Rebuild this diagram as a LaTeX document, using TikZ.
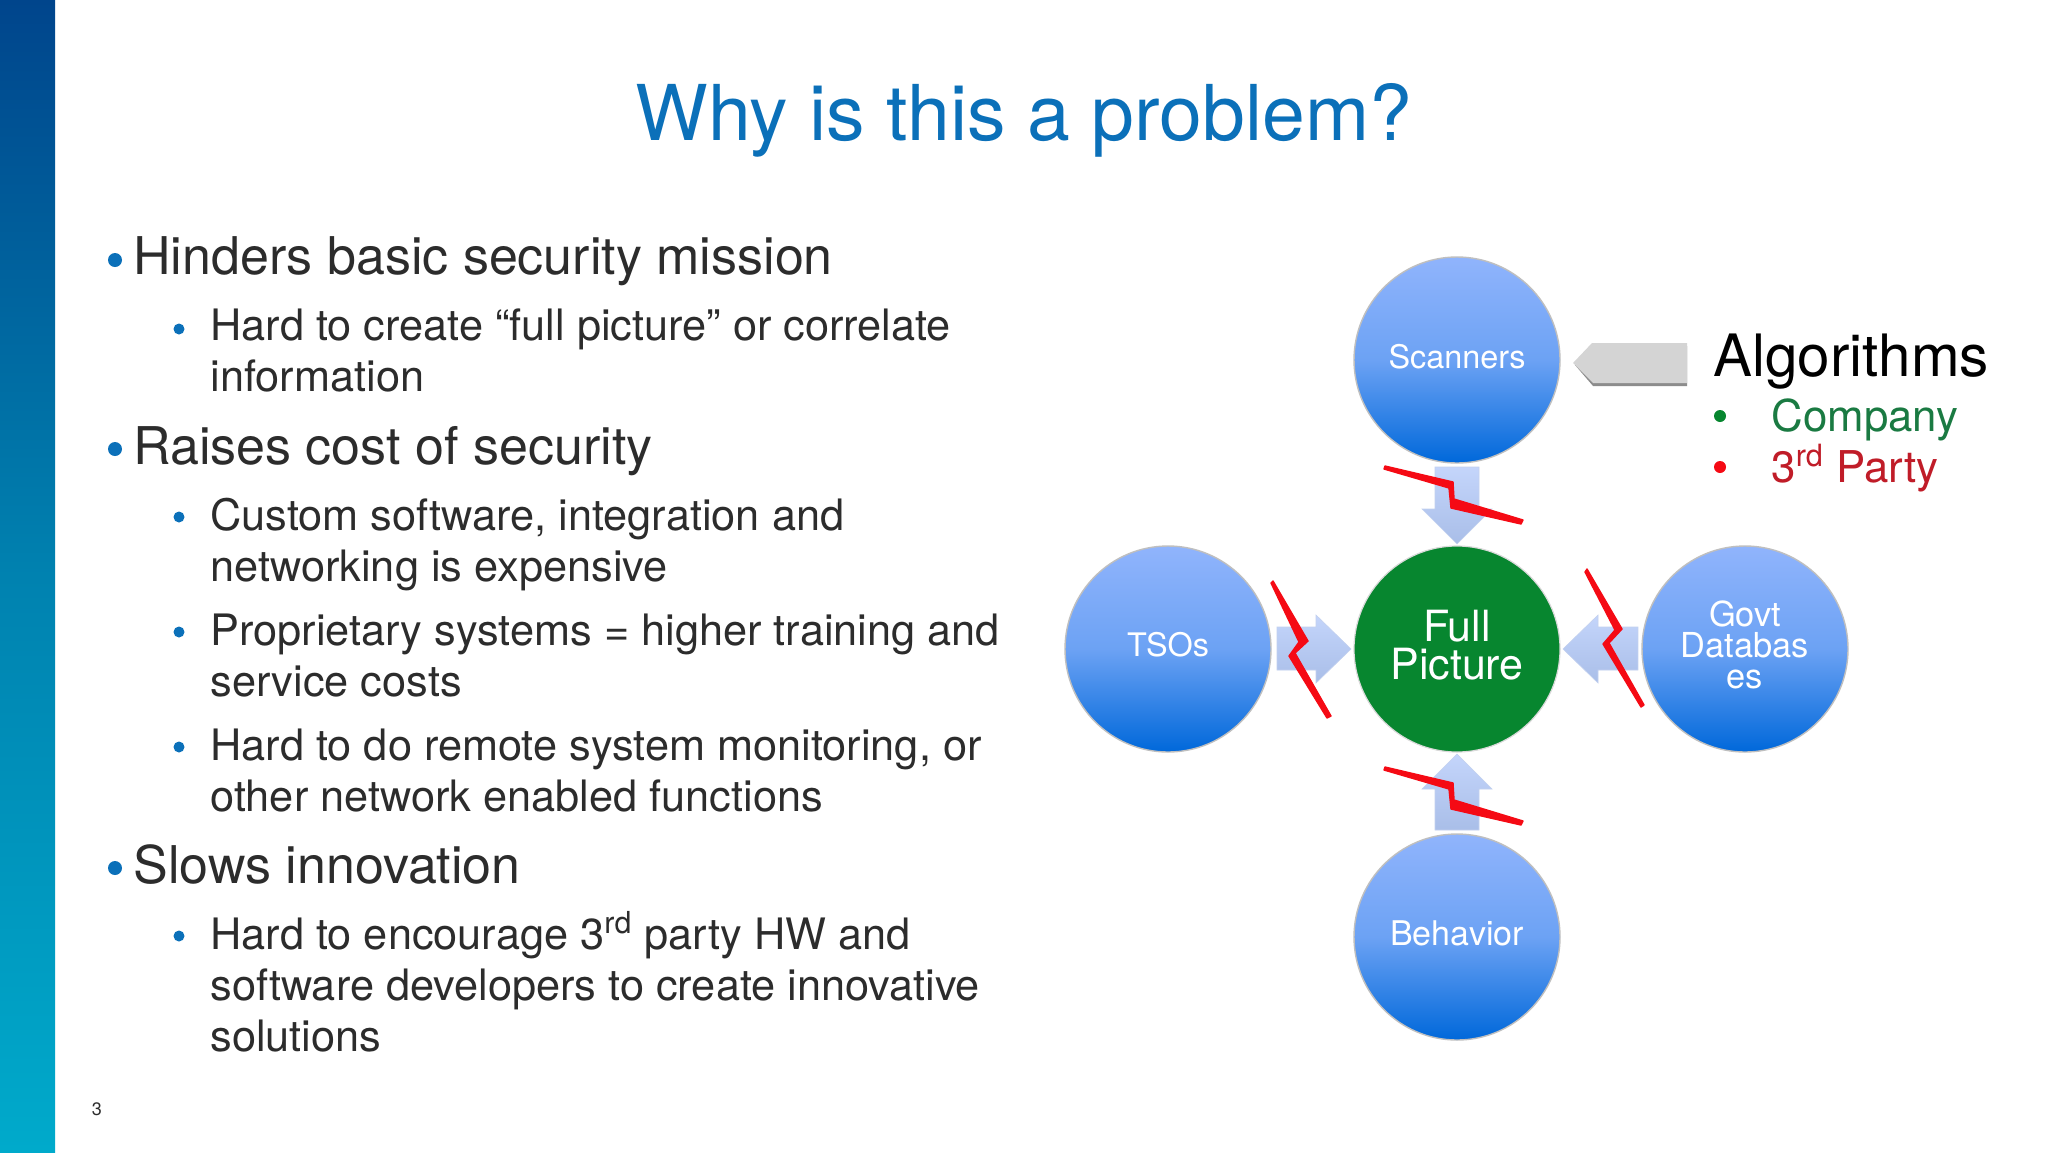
\documentclass[tikz,border=0pt]{standalone}
\usepackage{fontspec}
\setmainfont{TeX Gyre Heros}
\definecolor{titleblue}{HTML}{0B70B9}
\definecolor{bodyink}{HTML}{2C2C2C}
\definecolor{boltred}{HTML}{F50A14}
\definecolor{fullgreen}{HTML}{07862F}
\definecolor{feedertop}{HTML}{90B4FC}
\definecolor{feedermid}{HTML}{6CA2F4}
\definecolor{feederbottom}{HTML}{0068DA}
\definecolor{arrowtop}{HTML}{C4D5FB}
\definecolor{arrowbottom}{HTML}{A9BEE8}
\definecolor{bartop}{HTML}{00458C}
\definecolor{barmid}{HTML}{0082B0}
\definecolor{barbot}{HTML}{00AACB}
\definecolor{compgreen}{HTML}{1A7A42}
\definecolor{partyred}{HTML}{C01C28}
\newcommand{\pxfont}[2]{\fontsize{#1pt}{#2pt}\selectfont}
\tikzset{
  x=0.5pt,y=-0.5pt,
  titletext/.style={anchor=base,inner sep=0pt,text=titleblue,font=\pxfont{38.5}{46}},
  mainline/.style={anchor=base west,inner sep=0pt,text=bodyink,font=\pxfont{26}{30}},
  subline/.style={anchor=base west,inner sep=0pt,text=bodyink,font=\pxfont{21.65}{25}},
  mainbullet/.style={circle,fill=titleblue,inner sep=0pt,minimum size=7pt},
  subbullet/.style={circle,fill=titleblue,inner sep=0pt,minimum size=5.5pt},
  feeder/.style={circle,minimum size=103pt,inner sep=0pt,align=center,draw=black!25,line width=0.7pt,
    top color=feedertop,bottom color=feederbottom,middle color=feedermid,text=white},
  hub/.style={circle,minimum size=103pt,inner sep=0pt,align=center,draw=black!15,line width=0.6pt,fill=fullgreen,text=white,font=\pxfont{21.5}{19.3}},
  blockarrow/.style={top color=arrowtop,bottom color=arrowbottom,draw=arrowbottom!70!white,line width=0.3pt},
  bolt/.style={fill=boltred,draw=boltred,line width=0.7pt,line join=round},
  legendline/.style={anchor=base west,inner sep=0pt,font=\pxfont{21.9}{26}},
}
\begin{document}
\begin{tikzpicture}
\useasboundingbox (0,0) rectangle (2048,1152);
\fill[white] (0,0) rectangle (2048,1152);
\shade[top color=bartop,bottom color=barbot,middle color=barmid] (0,0) rectangle (55,1152);

\node[titletext] (title) at (1024,140) {Why is this a problem?};

\node[mainbullet] (b1) at (115,260) {};
\node[mainline] (t1) at (133,274) {Hinders basic security mission};
\node[subbullet] (b2) at (179,329) {};
\node[subline] (t2a) at (210,340) {Hard to create “full picture” or correlate};
\node[subline] (t2b) at (210,391) {information};
\node[mainbullet] (b3) at (115,449) {};
\node[mainline] (t3) at (133,464) {Raises cost of security};
\node[subbullet] (b4) at (179,517) {};
\node[subline] (t4a) at (210,530) {Custom software, integration and};
\node[subline] (t4b) at (210,581) {networking is expensive};
\node[subbullet] (b5) at (179,632) {};
\node[subline] (t5a) at (210,645) {Proprietary systems = higher training and};
\node[subline] (t5b) at (210,696) {service costs};
\node[subbullet] (b6) at (179,747) {};
\node[subline] (t6a) at (210,760) {Hard to do remote system monitoring, or};
\node[subline] (t6b) at (210,811) {other network enabled functions};
\node[mainbullet] (b7) at (115,868) {};
\node[mainline] (t7) at (133,883) {Slows innovation};
\node[subbullet] (b8) at (179,936) {};
\node[subline] (t8a) at (210,949) {Hard to encourage 3\textsuperscript{rd} party HW and};
\node[subline] (t8b) at (210,1000) {software developers to create innovative};
\node[subline] (t8c) at (210,1051) {solutions};
\node[anchor=base,inner sep=0pt,text=bodyink,font=\pxfont{9}{11}] (pageno) at (97,1115) {3};

% block arrows
\draw[blockarrow] (1435,467) -- (1479,467) -- (1479,509) -- (1492,509) -- (1457,544) -- (1422,509) -- (1435,509) -- cycle;
\draw[blockarrow] (1435,830) -- (1479,830) -- (1479,789) -- (1492,789) -- (1457,754) -- (1422,789) -- (1435,789) -- cycle;
\draw[blockarrow] (1277,627) -- (1316,627) -- (1316,615) -- (1351,649) -- (1316,683) -- (1316,670) -- (1277,670) -- cycle;
\draw[blockarrow] (1638,627) -- (1598,627) -- (1598,615) -- (1563,649) -- (1598,683) -- (1598,670) -- (1638,670) -- cycle;

% circles
\node[hub] (full) at (1457,649) {Full\\Picture\rule[-4pt]{0pt}{0pt}};
\node[feeder,font=\pxfont{16.2}{16},text height=8pt,text depth=0pt] (scan) at (1457,360) {Scanners};
\node[feeder,font=\pxfont{16.2}{16},text height=7pt,text depth=0pt] (tso) at (1168,649) {TSOs};
\node[feeder,font=\pxfont{17.2}{15.5}] (govt) at (1745,649) {Govt\\Databas\\es\rule[-4pt]{0pt}{0pt}};
\node[feeder,font=\pxfont{17}{16},text height=8pt,text depth=0pt] (behav) at (1457,937) {Behavior};

% bolts
\draw[bolt] (1385,466) -- (1453,482) -- (1454,499) -- (1523,520) -- (1521,524) -- (1451,508) -- (1449,488) -- (1384,469) -- cycle;
\draw[bolt] (1385,767) -- (1453,783) -- (1454,800) -- (1523,821) -- (1521,825) -- (1451,809) -- (1449,789) -- (1384,770) -- cycle;
\draw[bolt] (1273,581) -- (1308,641) -- (1295,653) -- (1331,716) -- (1327,718) -- (1289,656) -- (1299,642) -- (1271,583) -- cycle;
\draw[bolt] (1587,569) -- (1622,629) -- (1609,643) -- (1644,705) -- (1641,707) -- (1603,644) -- (1615,630) -- (1585,572) -- cycle;

% algorithms pointer
\fill[black!45] (1575,365) -- (1593,386) -- (1687,386) -- (1687,346) -- cycle;
\fill[black!17] (1573,363) -- (1592,343) -- (1687,343) -- (1687,383) -- (1593,383) -- cycle;

\node[anchor=base west,inner sep=0pt,text=black,font=\pxfont{29.2}{34}] (algo) at (1713,376) {Algorithms};
\node[circle,fill=fullgreen,inner sep=0pt,minimum size=6pt] (lb1) at (1720,416) {};
\node[legendline,text=compgreen] (comp) at (1771,431) {Company};
\node[circle,fill=boltred,inner sep=0pt,minimum size=6pt] (lb2) at (1720,467) {};
\node[legendline,text=partyred] (party) at (1771,482) {3\textsuperscript{rd} Party};
\end{tikzpicture}
\end{document}
